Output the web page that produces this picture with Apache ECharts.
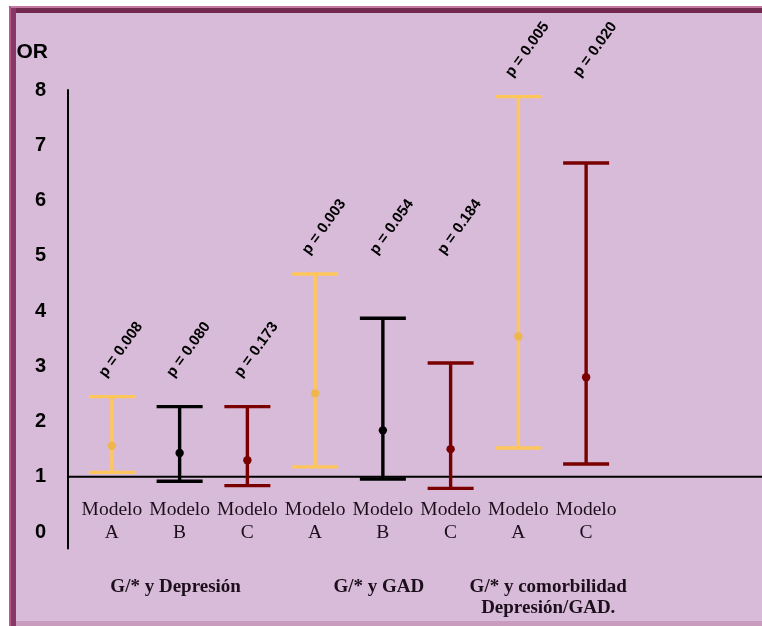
<!DOCTYPE html>
<html>
<head>
<meta charset="utf-8">
<script src="https://cdn.jsdelivr.net/npm/echarts@6/dist/echarts.min.js"></script>
<style>
  html, body { margin: 0; padding: 0; background: #ffffff; }
  #chart { width: 762px; height: 626px; }
</style>
</head>
<body>
<div id="chart"></div>
<script>
// Odds ratios (OR) with 95% confidence intervals per model
const models = ['Modelo\nA', 'Modelo\nB', 'Modelo\nC', 'Modelo\nA', 'Modelo\nB', 'Modelo\nC', 'Modelo\nA', 'Modelo\nC'];
const modelKey = ['A', 'B', 'C', 'A', 'B', 'C', 'A', 'C'];
const groupOf = [0, 0, 0, 1, 1, 1, 2, 2];
const groups = ['G/* y Depresión', 'G/* y GAD', 'G/* y comorbilidad\nDepresión/GAD.'];
const orValues = [1.56, 1.43, 1.30, 2.51, 1.84, 1.50, 3.54, 2.80];
const ciLow = [1.08, 0.92, 0.84, 1.18, 0.96, 0.79, 1.52, 1.23];
const ciHigh = [2.45, 2.27, 2.27, 4.67, 3.87, 3.06, 7.88, 6.68];
const pValues = ['0.008', '0.080', '0.173', '0.003', '0.054', '0.184', '0.005', '0.020'];
const yTicks = [0, 1, 2, 3, 4, 5, 6, 7, 8];
const refOR = 1;

const lineColor = { A: '#ffc65c', B: '#000000', C: '#7a0000' };
const dotColor = { A: '#eeb64c', B: '#000000', C: '#7a0000' };

const chart = echarts.init(document.getElementById('chart'), null, { renderer: 'canvas' });

function groupMaxHigh(g) {
  let m = -Infinity;
  ciHigh.forEach((v, j) => { if (groupOf[j] === g && v > m) m = v; });
  return m;
}

// One error bar (CI whiskers + OR point) with its p-value label
function renderItem(params, api) {
  const i = api.value(0);
  const top = api.coord([i, api.value(3)]);
  const mid = api.coord([i, api.value(2)]);
  const bot = api.coord([i, api.value(1)]);
  const key = modelKey[i];
  const c = lineColor[key];
  const half = 23;
  const w = 3.4;
  const lab = api.coord([i, groupMaxHigh(groupOf[i])]);
  return {
    type: 'group',
    children: [
      { type: 'line', shape: { x1: top[0], y1: top[1], x2: bot[0], y2: bot[1] }, style: { stroke: c, lineWidth: w } },
      { type: 'line', shape: { x1: top[0] - half, y1: top[1], x2: top[0] + half, y2: top[1] }, style: { stroke: c, lineWidth: w } },
      { type: 'line', shape: { x1: bot[0] - half, y1: bot[1], x2: bot[0] + half, y2: bot[1] }, style: { stroke: c, lineWidth: w } },
      { type: 'circle', shape: { cx: mid[0], cy: mid[1], r: 4.2 }, style: { fill: dotColor[key] } },
      {
        type: 'text',
        x: lab[0] + 9,
        y: lab[1] - 47,
        rotation: 54 * Math.PI / 180,
        style: {
          text: 'p = ' + pValues[i],
          fill: '#000000',
          font: 'bold 15px "Liberation Sans", Arial, sans-serif',
          align: 'center',
          verticalAlign: 'middle'
        }
      }
    ]
  };
}

chart.setOption({
  backgroundColor: '#d8bbd8',
  animation: false,
  grid: { left: 78, right: 142, top: 90, bottom: 77.4 },
  xAxis: {
    type: 'category',
    data: models,
    offset: -58,
    axisLine: { show: false },
    axisTick: { show: false },
    splitLine: { show: false },
    axisLabel: {
      interval: 0,
      margin: 8,
      fontFamily: '"Liberation Serif", serif',
      fontSize: 19.5,
      lineHeight: 23,
      color: '#1c0f1c'
    }
  },
  yAxis: {
    type: 'value',
    min: -0.3,
    max: 8,
    offset: 10,
    name: 'OR',
    nameLocation: 'end',
    nameGap: 38,
    nameTextStyle: {
      fontFamily: '"Liberation Sans", Arial, sans-serif',
      fontWeight: 'bold',
      fontSize: 21,
      color: '#000000',
      align: 'right',
      verticalAlign: 'middle',
      padding: [0, 20, 0, 0]
    },
    axisLine: { show: true, lineStyle: { color: '#000000', width: 2 } },
    axisTick: { show: false },
    splitLine: { show: false },
    axisLabel: {
      customValues: yTicks,
      margin: 22,
      fontFamily: '"Liberation Sans", Arial, sans-serif',
      fontWeight: 'bold',
      fontSize: 20,
      color: '#000000'
    }
  },
  series: [{
    type: 'custom',
    renderItem: renderItem,
    clip: false,
    z: 5,
    encode: { x: 0, y: [1, 2, 3] },
    data: orValues.map((v, i) => [i, ciLow[i], v, ciHigh[i]])
  }]
});

// Frame, reference line at OR = 1 and group captions
const axisX = chart.convertToPixel({ gridIndex: 0 }, [0, 0])[0] - 34 - 10;
const refY = chart.convertToPixel({ yAxisIndex: 0 }, refOR);
const groupTexts = groups.map((g, k) => {
  const idx = groupOf.map((gg, j) => gg === k ? j : -1).filter(j => j >= 0);
  const x0 = chart.convertToPixel({ xAxisIndex: 0 }, idx[0]);
  const x1 = chart.convertToPixel({ xAxisIndex: 0 }, idx[idx.length - 1]);
  return {
    type: 'text',
    x: (x0 + x1) / 2 - 4,
    y: 577,
    style: {
      text: g,
      fill: '#1c0f1c',
      font: 'bold 19px "Liberation Serif", serif',
      align: 'center',
      verticalAlign: 'top',
      lineHeight: 21
    }
  };
});

chart.setOption({
  graphic: [
    { type: 'line', shape: { x1: axisX + 1, y1: refY, x2: 762, y2: refY }, style: { stroke: '#000000', lineWidth: 2 } },
    { type: 'rect', shape: { x: 0, y: 0, width: 762, height: 6 }, style: { fill: '#ffffff' } },
    { type: 'rect', shape: { x: 0, y: 0, width: 9, height: 626 }, style: { fill: '#ffffff' } },
    { type: 'rect', shape: { x: 9, y: 6, width: 753, height: 2 }, style: { fill: '#c27aa3' } },
    { type: 'rect', shape: { x: 9, y: 6, width: 2, height: 620 }, style: { fill: '#b25a8a' } },
    { type: 'rect', shape: { x: 11, y: 8, width: 751, height: 5 }, style: { fill: '#72284f' } },
    { type: 'rect', shape: { x: 11, y: 8, width: 5, height: 618 }, style: { fill: '#8a3766' } },
    { type: 'rect', shape: { x: 16, y: 621, width: 746, height: 5 }, style: { fill: '#c99bbd' } }
  ].concat(groupTexts)
});
</script>
</body>
</html>
